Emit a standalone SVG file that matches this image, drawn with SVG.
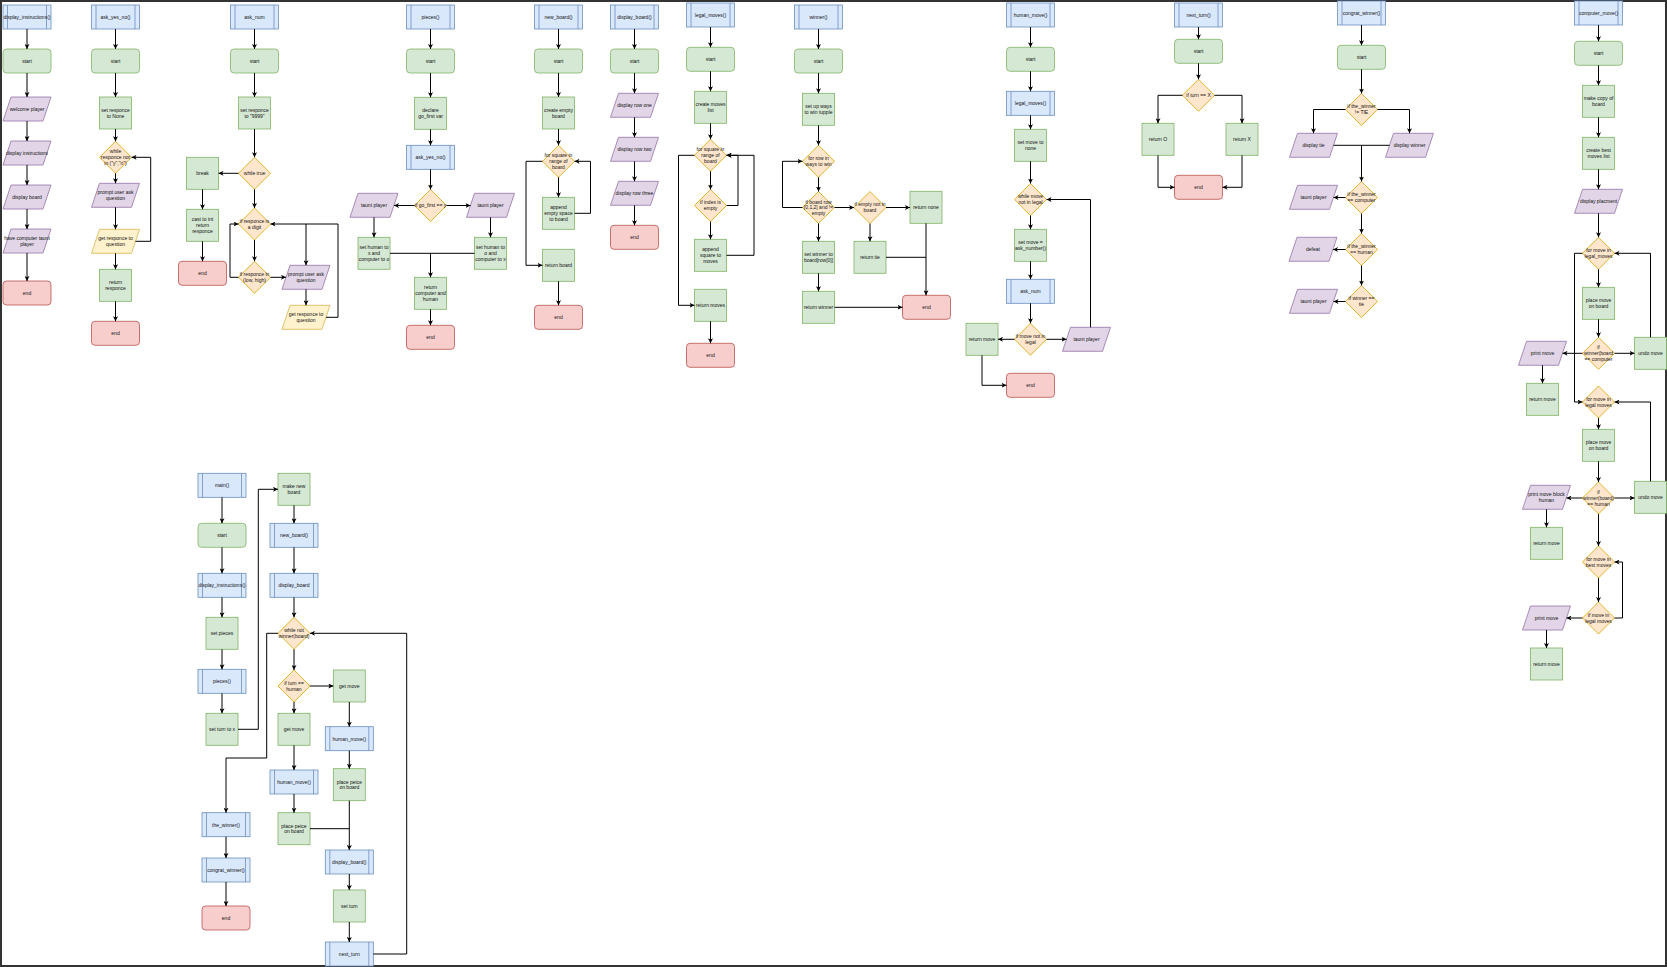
<svg xmlns="http://www.w3.org/2000/svg" width="1667" height="967" viewBox="0 0 1667 967">
<style>
.g{fill:#d5e8d4;stroke:#82b366;stroke-width:0.8}
.b{fill:#dae8fc;stroke:#6c8ebf;stroke-width:0.8}
.bl{fill:none;stroke:#6c8ebf;stroke-width:0.8}
.r{fill:#f8cecc;stroke:#b85450;stroke-width:0.8}
.p{fill:#e1d5e7;stroke:#9673a6;stroke-width:0.8}
.d{fill:#ffe6cc;stroke:#d6a600;stroke-width:0.8}
.y{fill:#fff2cc;stroke:#d6b656;stroke-width:0.8}
text{font-family:"Liberation Sans",Arial,Helvetica,sans-serif;font-size:5px;text-anchor:middle;fill:#111}
.e{fill:none;stroke:#000;stroke-width:1;marker-end:url(#a)}
.l{fill:none;stroke:#000;stroke-width:1}
</style>
<defs>
<marker id="a" markerUnits="userSpaceOnUse" markerWidth="5" markerHeight="5" refX="5" refY="2.5" orient="auto"><path d="M0,0 L5,2.5 L0,5 L1.3,2.5 z" fill="#000"/></marker>
</defs>
<rect x="0" y="0" width="1667" height="967" fill="#fff"/>
<rect x="1" y="1" width="1665" height="965" fill="none" stroke="#333" stroke-width="2"/>

<!-- Column 1: display_instructions() -->
<g id="c1_title"><rect class="b" x="3" y="5" width="48" height="24"/><path class="bl" d="M7.5 5v24M46.5 5v24"/><text x="27" y="18.8">display_instructions()</text></g>
<g id="c1_start"><rect class="g" x="3" y="49" width="48" height="24" rx="3.5"/><text x="27" y="62.8">start</text></g>
<g id="c1_welcome"><polygon class="p" points="11,97 51,97 43,121 3,121"/><text x="27" y="110.8">welcome player</text></g>
<g id="c1_dispinst"><polygon class="p" points="11,141 51,141 43,165 3,165"/><text x="27" y="154.8">display instructions</text></g>
<g id="c1_dispboard"><polygon class="p" points="11,185 51,185 43,209 3,209"/><text x="27" y="198.8">display board</text></g>
<g id="c1_taunt"><polygon class="p" points="11,229 51,229 43,253 3,253"/><text x="27" y="239.9">have computer taunt</text><text x="27" y="245.7">player</text></g>
<g id="c1_end"><rect class="r" x="3" y="281" width="48" height="24" rx="3.5"/><text x="27" y="294.8">end</text></g>

<!-- Column 2: ask_yes_no() -->
<g id="c2_title"><rect class="b" x="91.5" y="5" width="48" height="24"/><path class="bl" d="M96 5v24M135 5v24"/><text x="115.5" y="18.8">ask_yes_no()</text></g>
<g id="c2_start"><rect class="g" x="91.5" y="49" width="48" height="24" rx="3.5"/><text x="115.5" y="62.8">start</text></g>
<g id="c2_set"><rect class="g" x="99.5" y="97" width="32" height="32"/><text x="115.5" y="111.9">set responce</text><text x="115.5" y="117.7">to None</text></g>
<g id="c2_while"><polygon class="d" points="115.5,141.3 131.5,157.3 115.5,173.3 99.5,157.3"/><text x="115.5" y="153.3">while</text><text x="115.5" y="159.1">responce not</text><text x="115.5" y="164.9">in ("y","n")</text></g>
<g id="c2_prompt"><polygon class="p" points="99.5,183.3 139.5,183.3 131.5,207.3 91.5,207.3"/><text x="115.5" y="194.2">prompt user ask</text><text x="115.5" y="200">question</text></g>
<g id="c2_get"><polygon class="y" points="99.5,229.3 139.5,229.3 131.5,253.3 91.5,253.3"/><text x="115.5" y="240.2">get responce to</text><text x="115.5" y="246">question</text></g>
<g id="c2_return"><rect class="g" x="99.5" y="269.3" width="32" height="32"/><text x="115.5" y="284.2">return</text><text x="115.5" y="290">responce</text></g>
<g id="c2_end"><rect class="r" x="91.5" y="321.3" width="48" height="24" rx="3.5"/><text x="115.5" y="335.1">end</text></g>

<!-- Column 3: ask_num -->
<g id="c3_title"><rect class="b" x="230.5" y="5" width="48" height="24"/><path class="bl" d="M235 5v24M274 5v24"/><text x="254.5" y="18.8">ask_num</text></g>
<g id="c3_start"><rect class="g" x="230.5" y="49" width="48" height="24" rx="3.5"/><text x="254.5" y="62.8">start</text></g>
<g id="c3_set"><rect class="g" x="238.5" y="97" width="32" height="32"/><text x="254.5" y="111.9">set responce</text><text x="254.5" y="117.7">to "9999"</text></g>
<g id="c3_while"><polygon class="d" points="254.5,157.3 270.5,173.3 254.5,189.3 238.5,173.3"/><text x="254.5" y="175.1">while true</text></g>
<g id="c3_break"><rect class="g" x="186.5" y="157.3" width="32" height="32"/><text x="202.5" y="175.1">break</text></g>
<g id="c3_cast"><rect class="g" x="186.5" y="209.3" width="32" height="32"/><text x="202.5" y="221.3">cast to int</text><text x="202.5" y="227.1">return</text><text x="202.5" y="232.9">responce</text></g>
<g id="c3_end"><rect class="r" x="178.5" y="261.3" width="48" height="24" rx="3.5"/><text x="202.5" y="275.1">end</text></g>
<g id="c3_digit"><polygon class="d" points="254.5,208 270.5,224 254.5,240 238.5,224"/><text x="254.5" y="222.9">if responce is</text><text x="254.5" y="228.7">a digit</text></g>
<g id="c3_range"><polygon class="d" points="254.5,261.3 270.5,277.3 254.5,293.3 238.5,277.3"/><text x="254.5" y="276.2">if responce in</text><text x="254.5" y="282">(low, high)</text></g>
<g id="c3_prompt"><polygon class="p" points="290,265.3 330,265.3 322,289.3 282,289.3"/><text x="306" y="276.2">prompt user ask</text><text x="306" y="282">question</text></g>
<g id="c3_get"><polygon class="y" points="290,305.3 330,305.3 322,329.3 282,329.3"/><text x="306" y="316.2">get responce to</text><text x="306" y="322">question</text></g>

<!-- Column 4: pieces() -->
<g id="c4_title"><rect class="b" x="406.5" y="5" width="48" height="24"/><path class="bl" d="M411 5v24M450 5v24"/><text x="430.5" y="18.8">pieces()</text></g>
<g id="c4_start"><rect class="g" x="406.5" y="49" width="48" height="24" rx="3.5"/><text x="430.5" y="62.8">start</text></g>
<g id="c4_declare"><rect class="g" x="414.5" y="97.3" width="32" height="32"/><text x="430.5" y="112.2">declare</text><text x="430.5" y="118">go_first var</text></g>
<g id="c4_ask"><rect class="b" x="406.5" y="145.3" width="48" height="24"/><path class="bl" d="M411 145.3v24M450 145.3v24"/><text x="430.5" y="159.1">ask_yes_no()</text></g>
<g id="c4_if"><polygon class="d" points="430.5,189.5 446.5,205.5 430.5,221.5 414.5,205.5"/><text x="430.5" y="207.3">if go_first == y</text></g>
<g id="c4_tauntL"><polygon class="p" points="358,193.3 398,193.3 390,217.3 350,217.3"/><text x="374" y="207.1">taunt player</text></g>
<g id="c4_tauntR"><polygon class="p" points="474.5,193.3 514.5,193.3 506.5,217.3 466.5,217.3"/><text x="490.5" y="207.1">taunt player</text></g>
<g id="c4_setX"><rect class="g" x="358" y="237.3" width="32" height="32"/><text x="374" y="249.3">set human to</text><text x="374" y="255.1">x and</text><text x="374" y="260.9">computer to o</text></g>
<g id="c4_setO"><rect class="g" x="474.5" y="237.3" width="32" height="32"/><text x="490.5" y="249.3">set human to</text><text x="490.5" y="255.1">o and</text><text x="490.5" y="260.9">computer to x</text></g>
<g id="c4_return"><rect class="g" x="414.5" y="277.3" width="32" height="32"/><text x="430.5" y="289.3">return</text><text x="430.5" y="295.1">computer and</text><text x="430.5" y="300.9">human</text></g>
<g id="c4_end"><rect class="r" x="406.5" y="325.3" width="48" height="24" rx="3.5"/><text x="430.5" y="339.1">end</text></g>

<!-- Column 5: new_board() -->
<g id="c5_title"><rect class="b" x="534.5" y="5" width="48" height="24"/><path class="bl" d="M539 5v24M578 5v24"/><text x="558.5" y="18.8">new_board()</text></g>
<g id="c5_start"><rect class="g" x="534.5" y="49" width="48" height="24" rx="3.5"/><text x="558.5" y="62.8">start</text></g>
<g id="c5_create"><rect class="g" x="542.5" y="97" width="32" height="32"/><text x="558.5" y="111.9">create empty</text><text x="558.5" y="117.7">board</text></g>
<g id="c5_for"><polygon class="d" points="558.5,145.3 574.5,161.3 558.5,177.3 542.5,161.3"/><text x="558.5" y="157.3">for square in</text><text x="558.5" y="163.1">range of</text><text x="558.5" y="168.9">board</text></g>
<g id="c5_append"><rect class="g" x="542.5" y="197.3" width="32" height="32"/><text x="558.5" y="209.3">append</text><text x="558.5" y="215.1">empty space</text><text x="558.5" y="220.9">to board</text></g>
<g id="c5_return"><rect class="g" x="542.5" y="249.3" width="32" height="32"/><text x="558.5" y="267.1">return board</text></g>
<g id="c5_end"><rect class="r" x="534.5" y="305.3" width="48" height="24" rx="3.5"/><text x="558.5" y="319.1">end</text></g>

<!-- Column 6: display_board() -->
<g id="c6_title"><rect class="b" x="610.5" y="5" width="48" height="24"/><path class="bl" d="M615 5v24M654 5v24"/><text x="634.5" y="18.8">display_board()</text></g>
<g id="c6_start"><rect class="g" x="610.5" y="49" width="48" height="24" rx="3.5"/><text x="634.5" y="62.8">start</text></g>
<g id="c6_row1"><polygon class="p" points="618.5,93.3 658.5,93.3 650.5,117.3 610.5,117.3"/><text x="634.5" y="107.1">display row one</text></g>
<g id="c6_row2"><polygon class="p" points="618.5,137.3 658.5,137.3 650.5,161.3 610.5,161.3"/><text x="634.5" y="151.1">display row two</text></g>
<g id="c6_row3"><polygon class="p" points="618.5,181.3 658.5,181.3 650.5,205.3 610.5,205.3"/><text x="634.5" y="195.1">display row three</text></g>
<g id="c6_end"><rect class="r" x="610.5" y="225.3" width="48" height="24" rx="3.5"/><text x="634.5" y="239.1">end</text></g>

<!-- Column 7: legal_moves() -->
<g id="c7_title"><rect class="b" x="686.5" y="3" width="48" height="24"/><path class="bl" d="M691 3v24M730 3v24"/><text x="710.5" y="16.8">legal_moves()</text></g>
<g id="c7_start"><rect class="g" x="686.5" y="47.3" width="48" height="24" rx="3.5"/><text x="710.5" y="61.1">start</text></g>
<g id="c7_create"><rect class="g" x="694.5" y="91.3" width="32" height="32"/><text x="710.5" y="106.2">create moves</text><text x="710.5" y="112">list</text></g>
<g id="c7_for"><polygon class="d" points="710.5,139.3 726.5,155.3 710.5,171.3 694.5,155.3"/><text x="710.5" y="151.3">for square in</text><text x="710.5" y="157.1">range of</text><text x="710.5" y="162.9">board</text></g>
<g id="c7_if"><polygon class="d" points="710.5,189.5 726.5,205.5 710.5,221.5 694.5,205.5"/><text x="710.5" y="204.4">if index is</text><text x="710.5" y="210.2">empty</text></g>
<g id="c7_append"><rect class="g" x="694.5" y="239.3" width="32" height="32"/><text x="710.5" y="251.3">append</text><text x="710.5" y="257.1">square to</text><text x="710.5" y="262.9">moves</text></g>
<g id="c7_return"><rect class="g" x="694.5" y="289.3" width="32" height="32"/><text x="710.5" y="307.1">return moves</text></g>
<g id="c7_end"><rect class="r" x="686.5" y="343.3" width="48" height="24" rx="3.5"/><text x="710.5" y="357.1">end</text></g>

<!-- Column 8: winner() -->
<g id="c8_title"><rect class="b" x="794.5" y="5" width="48" height="24"/><path class="bl" d="M799 5v24M838 5v24"/><text x="818.5" y="18.8">winner()</text></g>
<g id="c8_start"><rect class="g" x="794.5" y="49" width="48" height="24" rx="3.5"/><text x="818.5" y="62.8">start</text></g>
<g id="c8_setup"><rect class="g" x="802.5" y="93.3" width="32" height="32"/><text x="818.5" y="108.2">set up ways</text><text x="818.5" y="114">to win tupple</text></g>
<g id="c8_for"><polygon class="d" points="818.5,145.3 834.5,161.3 818.5,177.3 802.5,161.3"/><text x="818.5" y="160.2">for row in</text><text x="818.5" y="166">ways to win</text></g>
<g id="c8_ifrow"><polygon class="d" points="818.5,191.5 834.5,207.5 818.5,223.5 802.5,207.5"/><text x="818.5" y="203.5">if board row</text><text x="818.5" y="209.3">[0,1,2] and  !=</text><text x="818.5" y="215.1">empty</text></g>
<g id="c8_ifempty"><polygon class="d" points="870,191.5 886,207.5 870,223.5 854,207.5"/><text x="870" y="206.4">if empty not in</text><text x="870" y="212.2">board</text></g>
<g id="c8_none"><rect class="g" x="910" y="191.3" width="32" height="32"/><text x="926" y="209.1">return none</text></g>
<g id="c8_setw"><rect class="g" x="802.5" y="241.3" width="32" height="32"/><text x="818.5" y="256.2">set winner to</text><text x="818.5" y="262">board[row[0]]</text></g>
<g id="c8_tie"><rect class="g" x="854" y="241.3" width="32" height="32"/><text x="870" y="259.1">return tie</text></g>
<g id="c8_retw"><rect class="g" x="802.5" y="291.3" width="32" height="32"/><text x="818.5" y="309.1">return winner</text></g>
<g id="c8_end"><rect class="r" x="902.5" y="295.3" width="48" height="24" rx="3.5"/><text x="926.5" y="309.1">end</text></g>

<!-- Column 9: human_move() -->
<g id="c9_title"><rect class="b" x="1006.5" y="3" width="48" height="24"/><path class="bl" d="M1011 3v24M1050 3v24"/><text x="1030.5" y="16.8">human_move()</text></g>
<g id="c9_start"><rect class="g" x="1006.5" y="47.3" width="48" height="24" rx="3.5"/><text x="1030.5" y="61.1">start</text></g>
<g id="c9_legal"><rect class="b" x="1006.5" y="91.3" width="48" height="24"/><path class="bl" d="M1011 91.3v24M1050 91.3v24"/><text x="1030.5" y="105.1">legal_moves()</text></g>
<g id="c9_set"><rect class="g" x="1014.5" y="129.3" width="32" height="32"/><text x="1030.5" y="144.2">set move to</text><text x="1030.5" y="150">none</text></g>
<g id="c9_while"><polygon class="d" points="1030.5,183.5 1046.5,199.5 1030.5,215.5 1014.5,199.5"/><text x="1030.5" y="198.4">while move</text><text x="1030.5" y="204.2">not in legal</text></g>
<g id="c9_ask"><rect class="g" x="1014.5" y="229.3" width="32" height="32"/><text x="1030.5" y="244.2">set move =</text><text x="1030.5" y="250">ask_number()</text></g>
<g id="c9_asknum"><rect class="b" x="1006.5" y="279.3" width="48" height="24"/><path class="bl" d="M1011 279.3v24M1050 279.3v24"/><text x="1030.5" y="293.1">ask_num</text></g>
<g id="c9_if"><polygon class="d" points="1030.5,323.3 1046.5,339.3 1030.5,355.3 1014.5,339.3"/><text x="1030.5" y="338.2">if move not in</text><text x="1030.5" y="344">legal</text></g>
<g id="c9_return"><rect class="g" x="966" y="323.3" width="32" height="32"/><text x="982" y="341.1">return move</text></g>
<g id="c9_taunt"><polygon class="p" points="1070.5,327.3 1110.5,327.3 1102.5,351.3 1062.5,351.3"/><text x="1086.5" y="341.1">taunt player</text></g>
<g id="c9_end"><rect class="r" x="1006.5" y="373.3" width="48" height="24" rx="3.5"/><text x="1030.5" y="387.1">end</text></g>

<!-- Column 10: next_turn() -->
<g id="c10_title"><rect class="b" x="1174.5" y="3" width="48" height="24"/><path class="bl" d="M1179 3v24M1218 3v24"/><text x="1198.5" y="16.8">next_turn()</text></g>
<g id="c10_start"><rect class="g" x="1174.5" y="39.3" width="48" height="24" rx="3.5"/><text x="1198.5" y="53.1">start</text></g>
<g id="c10_if"><polygon class="d" points="1198.5,79.3 1214.5,95.3 1198.5,111.3 1182.5,95.3"/><text x="1198.5" y="97.1">if turn == X</text></g>
<g id="c10_O"><rect class="g" x="1142" y="123.3" width="32" height="32"/><text x="1158" y="141.1">return O</text></g>
<g id="c10_X"><rect class="g" x="1226" y="123.3" width="32" height="32"/><text x="1242" y="141.1">return X</text></g>
<g id="c10_end"><rect class="r" x="1174.5" y="175.3" width="48" height="24" rx="3.5"/><text x="1198.5" y="189.1">end</text></g>

<!-- Column 11: congrat_winner() -->
<g id="c11_title"><rect class="b" x="1337.5" y="1" width="48" height="24"/><path class="bl" d="M1342 1v24M1381 1v24"/><text x="1361.5" y="14.8">congrat_winner()</text></g>
<g id="c11_start"><rect class="g" x="1337.5" y="45.3" width="48" height="24" rx="3.5"/><text x="1361.5" y="59.1">start</text></g>
<g id="c11_iftie"><polygon class="d" points="1361.5,93.5 1377.5,109.5 1361.5,125.5 1345.5,109.5"/><text x="1361.5" y="108.4">if the_winner</text><text x="1361.5" y="114.2">!= TIE</text></g>
<g id="c11_disptie"><polygon class="p" points="1297.5,133.3 1337.5,133.3 1329.5,157.3 1289.5,157.3"/><text x="1313.5" y="147.1">display tie</text></g>
<g id="c11_dispwin"><polygon class="p" points="1393.5,133.3 1433.5,133.3 1425.5,157.3 1385.5,157.3"/><text x="1409.5" y="147.1">display winner</text></g>
<g id="c11_ifcomp"><polygon class="d" points="1361.5,181.5 1377.5,197.5 1361.5,213.5 1345.5,197.5"/><text x="1361.5" y="196.4">if the_winner</text><text x="1361.5" y="202.2">== computer</text></g>
<g id="c11_taunt1"><polygon class="p" points="1297.5,185.3 1337.5,185.3 1329.5,209.3 1289.5,209.3"/><text x="1313.5" y="199.1">taunt player</text></g>
<g id="c11_ifhuman"><polygon class="d" points="1361.5,233.5 1377.5,249.5 1361.5,265.5 1345.5,249.5"/><text x="1361.5" y="248.4">if the_winner</text><text x="1361.5" y="254.2">== human</text></g>
<g id="c11_defeat"><polygon class="p" points="1297,237.3 1337,237.3 1329,261.3 1289,261.3"/><text x="1313" y="251.1">defeat</text></g>
<g id="c11_iftie2"><polygon class="d" points="1361.5,285.5 1377.5,301.5 1361.5,317.5 1345.5,301.5"/><text x="1361.5" y="300.4">if winner ==</text><text x="1361.5" y="306.2">tie</text></g>
<g id="c11_taunt2"><polygon class="p" points="1297.5,289.3 1337.5,289.3 1329.5,313.3 1289.5,313.3"/><text x="1313.5" y="303.1">taunt player</text></g>

<!-- Column 12: computer_move() -->
<g id="c12_title"><rect class="b" x="1574.5" y="1" width="48" height="24"/><path class="bl" d="M1579 1v24M1618 1v24"/><text x="1598.5" y="14.8">computer_move()</text></g>
<g id="c12_start"><rect class="g" x="1574.5" y="41.3" width="48" height="24" rx="3.5"/><text x="1598.5" y="55.1">start</text></g>
<g id="c12_copy"><rect class="g" x="1582.5" y="85.3" width="32" height="32"/><text x="1598.5" y="100.2">make copy of</text><text x="1598.5" y="106">board</text></g>
<g id="c12_best"><rect class="g" x="1582.5" y="137.3" width="32" height="32"/><text x="1598.5" y="152.2">create best</text><text x="1598.5" y="158">moves list</text></g>
<g id="c12_disp"><polygon class="p" points="1582.5,189.3 1622.5,189.3 1614.5,213.3 1574.5,213.3"/><text x="1598.5" y="203.1">display placment</text></g>
<g id="c12_for1"><polygon class="d" points="1598.5,237.3 1614.5,253.3 1598.5,269.3 1582.5,253.3"/><text x="1598.5" y="252.2">for move in</text><text x="1598.5" y="258">legal_moves</text></g>
<g id="c12_place1"><rect class="g" x="1582.5" y="287.3" width="32" height="32"/><text x="1598.5" y="302.2">place move</text><text x="1598.5" y="308">on board</text></g>
<g id="c12_ifc"><polygon class="d" points="1598.5,337.3 1614.5,353.3 1598.5,369.3 1582.5,353.3"/><text x="1598.5" y="349.3">if</text><text x="1598.5" y="355.1">winner(board</text><text x="1598.5" y="360.9">== computer</text></g>
<g id="c12_undo1"><rect class="g" x="1634.5" y="337.3" width="32" height="32"/><text x="1650.5" y="355.1">undo move</text></g>
<g id="c12_print1"><polygon class="p" points="1526.5,341.3 1566.5,341.3 1558.5,365.3 1518.5,365.3"/><text x="1542.5" y="355.1">print move</text></g>
<g id="c12_ret1"><rect class="g" x="1526.5" y="383.3" width="32" height="32"/><text x="1542.5" y="401.1">return move</text></g>
<g id="c12_for2"><polygon class="d" points="1598.5,386 1614.5,402 1598.5,418 1582.5,402"/><text x="1598.5" y="400.9">for move in</text><text x="1598.5" y="406.7">legal moves</text></g>
<g id="c12_place2"><rect class="g" x="1582.5" y="429.3" width="32" height="32"/><text x="1598.5" y="444.2">place move</text><text x="1598.5" y="450">on board</text></g>
<g id="c12_ifh"><polygon class="d" points="1598.5,482 1614.5,498 1598.5,514 1582.5,498"/><text x="1598.5" y="494">if</text><text x="1598.5" y="499.8">winner(board)</text><text x="1598.5" y="505.6">== human</text></g>
<g id="c12_undo2"><rect class="g" x="1634.5" y="481.3" width="32" height="32"/><text x="1650.5" y="499.1">undo move</text></g>
<g id="c12_print2"><polygon class="p" points="1530.5,485.3 1570.5,485.3 1562.5,509.3 1522.5,509.3"/><text x="1546.5" y="496.2">print move block</text><text x="1546.5" y="502">human</text></g>
<g id="c12_ret2"><rect class="g" x="1530.5" y="527.3" width="32" height="32"/><text x="1546.5" y="545.1">return move</text></g>
<g id="c12_for3"><polygon class="d" points="1598.5,546 1614.5,562 1598.5,578 1582.5,562"/><text x="1598.5" y="560.9">for move in</text><text x="1598.5" y="566.7">best moves</text></g>
<g id="c12_ifl"><polygon class="d" points="1598.5,602 1614.5,618 1598.5,634 1582.5,618"/><text x="1598.5" y="616.9">if move in</text><text x="1598.5" y="622.7">legal moves</text></g>
<g id="c12_print3"><polygon class="p" points="1530.5,606 1570.5,606 1562.5,630 1522.5,630"/><text x="1546.5" y="619.8">print move</text></g>
<g id="c12_ret3"><rect class="g" x="1530.5" y="648" width="32" height="32"/><text x="1546.5" y="665.8">return move</text></g>

<!-- main() -->
<g id="m_title"><rect class="b" x="198" y="473.3" width="48" height="24"/><path class="bl" d="M202.5 473.3v24M241.5 473.3v24"/><text x="222" y="487.1">main()</text></g>
<g id="m_start"><rect class="g" x="198" y="523.3" width="48" height="24" rx="3.5"/><text x="222" y="537.1">start</text></g>
<g id="m_dispinst"><rect class="b" x="198" y="573.3" width="48" height="24"/><path class="bl" d="M202.5 573.3v24M241.5 573.3v24"/><text x="222" y="587.1">display_instructions()</text></g>
<g id="m_setpieces"><rect class="g" x="206" y="617.3" width="32" height="32"/><text x="222" y="635.1">set pieces</text></g>
<g id="m_pieces"><rect class="b" x="198" y="669.3" width="48" height="24"/><path class="bl" d="M202.5 669.3v24M241.5 669.3v24"/><text x="222" y="683.1">pieces()</text></g>
<g id="m_setturnx"><rect class="g" x="206" y="713.3" width="32" height="32"/><text x="222" y="731.1">set turn to x</text></g>
<g id="m_make"><rect class="g" x="278" y="473.3" width="32" height="32"/><text x="294" y="488.2">make new</text><text x="294" y="494">board</text></g>
<g id="m_newboard"><rect class="b" x="270" y="523.3" width="48" height="24"/><path class="bl" d="M274.5 523.3v24M313.5 523.3v24"/><text x="294" y="537.1">new_board()</text></g>
<g id="m_dispboard"><rect class="b" x="270" y="573.3" width="48" height="24"/><path class="bl" d="M274.5 573.3v24M313.5 573.3v24"/><text x="294" y="587.1">display_board</text></g>
<g id="m_while"><polygon class="d" points="294,617.3 310,633.3 294,649.3 278,633.3"/><text x="294" y="632.2">while not</text><text x="294" y="638">winner(board)</text></g>
<g id="m_ifturn"><polygon class="d" points="294,670 310,686 294,702 278,686"/><text x="294" y="684.9">if turn ==</text><text x="294" y="690.7">human</text></g>
<g id="m_getmoveR"><rect class="g" x="333.3" y="670" width="32" height="32"/><text x="349.3" y="687.8">get move</text></g>
<g id="m_getmoveL"><rect class="g" x="278" y="713.3" width="32" height="32"/><text x="294" y="731.1">get move</text></g>
<g id="m_humanL"><rect class="b" x="270" y="770" width="48" height="24"/><path class="bl" d="M274.5 770v24M313.5 770v24"/><text x="294" y="783.8">human_move()</text></g>
<g id="m_placeL"><rect class="g" x="278" y="812.7" width="32" height="32"/><text x="294" y="827.6">place peice</text><text x="294" y="833.4">on board</text></g>
<g id="m_humanR"><rect class="b" x="325.3" y="726.7" width="48" height="24"/><path class="bl" d="M329.8 726.7v24M368.8 726.7v24"/><text x="349.3" y="740.5">human_move()</text></g>
<g id="m_placeR"><rect class="g" x="333.3" y="768.7" width="32" height="32"/><text x="349.3" y="783.6">place peice</text><text x="349.3" y="789.4">on board</text></g>
<g id="m_dispboard2"><rect class="b" x="325.3" y="850" width="48" height="24"/><path class="bl" d="M329.8 850v24M368.8 850v24"/><text x="349.3" y="863.8">display_board()</text></g>
<g id="m_setturn"><rect class="g" x="333.3" y="890" width="32" height="32"/><text x="349.3" y="907.8">set turn</text></g>
<g id="m_nextturn"><rect class="b" x="325.3" y="942" width="48" height="24"/><path class="bl" d="M329.8 942v24M368.8 942v24"/><text x="349.3" y="955.8">next_turn</text></g>
<g id="m_thewinner"><rect class="b" x="202" y="812.7" width="48" height="24"/><path class="bl" d="M206.5 812.7v24M245.5 812.7v24"/><text x="226" y="826.5">the_winner()</text></g>
<g id="m_congrat"><rect class="b" x="202" y="858" width="48" height="24"/><path class="bl" d="M206.5 858v24M245.5 858v24"/><text x="226" y="871.8">congrat_winner()</text></g>
<g id="m_end"><rect class="r" x="202" y="906" width="48" height="24" rx="3.5"/><text x="226" y="919.8">end</text></g>

<g id="connectors">
<!-- c1 -->
<path class="e" d="M27 29V49"/><path class="e" d="M27 73V97"/><path class="e" d="M27 121V141"/><path class="e" d="M27 165V185"/><path class="e" d="M27 209V229"/><path class="e" d="M27 253V281"/>
<!-- c2 -->
<path class="e" d="M115.5 29V49"/><path class="e" d="M115.5 73V97"/><path class="e" d="M115.5 129V141.3"/><path class="e" d="M115.5 173.3V183.3"/><path class="e" d="M115.5 207.3V229.3"/><path class="e" d="M115.5 253.3V269.3"/><path class="e" d="M115.5 301.3V321.3"/>
<path class="e" d="M135.5 241.3H150.7V157.3H131.5"/>
<!-- c3 -->
<path class="e" d="M254.5 29V49"/><path class="e" d="M254.5 73V97"/><path class="e" d="M254.5 129V157.3"/><path class="e" d="M254.5 189.3V208"/><path class="e" d="M254.5 240V261.3"/>
<path class="e" d="M238.5 173.3H218.5"/><path class="e" d="M202.5 189.3V209.3"/><path class="e" d="M202.5 241.3V261.3"/>
<path class="e" d="M238.5 277.3H230V224H238.5"/>
<path class="e" d="M270.5 277.3H286"/>
<path class="e" d="M306 289.3V305.3"/>
<path class="e" d="M326 317.3H338V224H270.5"/>
<path class="e" d="M306 224V265.3"/>
<!-- c4 -->
<path class="e" d="M430.5 29V49"/><path class="e" d="M430.5 73V97.3"/><path class="e" d="M430.5 129.3V145.3"/><path class="e" d="M430.5 169.3V189.5"/>
<path class="e" d="M414.5 205.5H394"/><path class="e" d="M446.5 205.5H470.5"/>
<path class="e" d="M374 217.3V237.3"/><path class="e" d="M490.5 217.3V237.3"/>
<path class="l" d="M390 253.3H474.5"/><path class="e" d="M430.5 253.3V277.3"/><path class="e" d="M430.5 309.3V325.3"/>
<!-- c5 -->
<path class="e" d="M558.5 29V49"/><path class="e" d="M558.5 73V97"/><path class="e" d="M558.5 129V145.3"/><path class="e" d="M558.5 177.3V197.3"/>
<path class="e" d="M574.5 213.3H590.5V161.3H574.5"/>
<path class="e" d="M542.5 161.3H526V265.3H542.5"/>
<path class="e" d="M558.5 281.3V305.3"/>
<!-- c6 -->
<path class="e" d="M634.5 29V49"/><path class="e" d="M634.5 73V93.3"/><path class="e" d="M634.5 117.3V137.3"/><path class="e" d="M634.5 161.3V181.3"/><path class="e" d="M634.5 205.3V225.3"/>
<!-- c7 -->
<path class="e" d="M710.5 27V47.3"/><path class="e" d="M710.5 71.3V91.3"/><path class="e" d="M710.5 123.3V139.3"/><path class="e" d="M710.5 171.3V189.5"/><path class="e" d="M710.5 221.5V239.3"/>
<path class="e" d="M726.5 205.5H738V155.3H726.5"/>
<path class="e" d="M726.5 255.3H754V155.3H726.5"/>
<path class="e" d="M694.5 155.3H678.5V305.3H694.5"/>
<path class="e" d="M710.5 321.3V343.3"/>
<!-- c8 -->
<path class="e" d="M818.5 29V49"/><path class="e" d="M818.5 73V93.3"/><path class="e" d="M818.5 125.3V145.3"/><path class="e" d="M818.5 177.3V191.5"/>
<path class="e" d="M802.5 207.5H782.5V161.3H802.5"/>
<path class="e" d="M834.5 207.5H854"/><path class="e" d="M886 207.5H910"/>
<path class="e" d="M870 223.5V241.3"/><path class="e" d="M818.5 223.5V241.3"/>
<path class="e" d="M926 223.3V295.3"/><path class="l" d="M886 257.3H926"/>
<path class="e" d="M818.5 273.3V291.3"/><path class="e" d="M834.5 307.3H902.5"/>
<!-- c9 -->
<path class="e" d="M1030.5 27V47.3"/><path class="e" d="M1030.5 71.3V91.3"/><path class="e" d="M1030.5 115.3V129.3"/><path class="e" d="M1030.5 161.3V183.5"/><path class="e" d="M1030.5 215.5V229.3"/><path class="e" d="M1030.5 261.3V279.3"/><path class="e" d="M1030.5 303.3V323.3"/>
<path class="e" d="M1014.5 339.3H998"/><path class="e" d="M1046.5 339.3H1066.5"/>
<path class="e" d="M1090.5 327.3V199.5H1046.5"/>
<path class="e" d="M982 355.3V385.3H1006.5"/>
<!-- c10 -->
<path class="e" d="M1198.5 27V39.3"/><path class="e" d="M1198.5 63.3V79.3"/>
<path class="e" d="M1182.5 95.3H1158V123.3"/><path class="e" d="M1214.5 95.3H1242V123.3"/>
<path class="e" d="M1158 155.3V187.3H1174.5"/><path class="e" d="M1242 155.3V187.3H1222.5"/>
<!-- c11 -->
<path class="e" d="M1361.5 25V45.3"/><path class="e" d="M1361.5 69.3V93.5"/>
<path class="e" d="M1345.5 109.5H1313.5V133.3"/><path class="e" d="M1377.5 109.5H1409.5V133.3"/>
<path class="l" d="M1333.5 145.3H1389.5"/><path class="e" d="M1361.5 145.3V181.5"/>
<path class="e" d="M1361.5 213.5V233.5"/><path class="e" d="M1361.5 265.5V285.5"/>
<path class="e" d="M1345.5 197.5H1333.5"/><path class="e" d="M1345.5 249.5H1333"/><path class="e" d="M1345.5 301.5H1333.5"/>
<!-- c12 -->
<path class="e" d="M1598.5 25V41.3"/><path class="e" d="M1598.5 65.3V85.3"/><path class="e" d="M1598.5 117.3V137.3"/><path class="e" d="M1598.5 169.3V189.3"/><path class="e" d="M1598.5 213.3V237.3"/><path class="e" d="M1598.5 269.3V287.3"/><path class="e" d="M1598.5 319.3V337.3"/>
<path class="e" d="M1614.5 353.3H1634.5"/><path class="e" d="M1582.5 353.3H1562.5"/>
<path class="e" d="M1542.5 365.3V383.3"/>
<path class="e" d="M1650.5 337.3V253.3H1614.5"/>
<path class="e" d="M1582.5 253.3H1574.5V402H1582.5"/>
<path class="e" d="M1598.5 418V429.3"/><path class="e" d="M1598.5 461.3V482"/>
<path class="e" d="M1614.5 498H1634.5"/><path class="e" d="M1582.5 498H1566.5"/>
<path class="e" d="M1650.5 481.3V402H1614.5"/>
<path class="e" d="M1546.5 509.3V527.3"/>
<path class="e" d="M1598.5 514V546"/><path class="e" d="M1598.5 578V602"/>
<path class="e" d="M1582.5 618H1566.5"/>
<path class="e" d="M1614.5 618H1622.5V562H1614.5"/>
<path class="e" d="M1546.5 630V648"/>
<!-- main -->
<path class="e" d="M222 497.3V523.3"/><path class="e" d="M222 547.3V573.3"/><path class="e" d="M222 597.3V617.3"/><path class="e" d="M222 649.3V669.3"/><path class="e" d="M222 693.3V713.3"/>
<path class="e" d="M238 729.3H258.3V489.3H278"/>
<path class="e" d="M294 505.3V523.3"/><path class="e" d="M294 547.3V573.3"/><path class="e" d="M294 597.3V617.3"/><path class="e" d="M294 649.3V670"/>
<path class="e" d="M310 686H333.3"/>
<path class="e" d="M294 702V713.3"/><path class="e" d="M294 745.3V770"/><path class="e" d="M294 794V812.7"/>
<path class="l" d="M310 828.7H349.3"/>
<path class="e" d="M349.3 702V726.7"/><path class="e" d="M349.3 750.7V768.7"/><path class="e" d="M349.3 800.7V850"/>
<path class="e" d="M349.3 874V890"/><path class="e" d="M349.3 922V942"/>
<path class="e" d="M373.3 954H406.7V633.3H310"/>
<path class="e" d="M278 633.3H266.7V758H226V812.7"/>
<path class="e" d="M226 836.7V858"/><path class="e" d="M226 882V906"/>
</g>
</svg>
